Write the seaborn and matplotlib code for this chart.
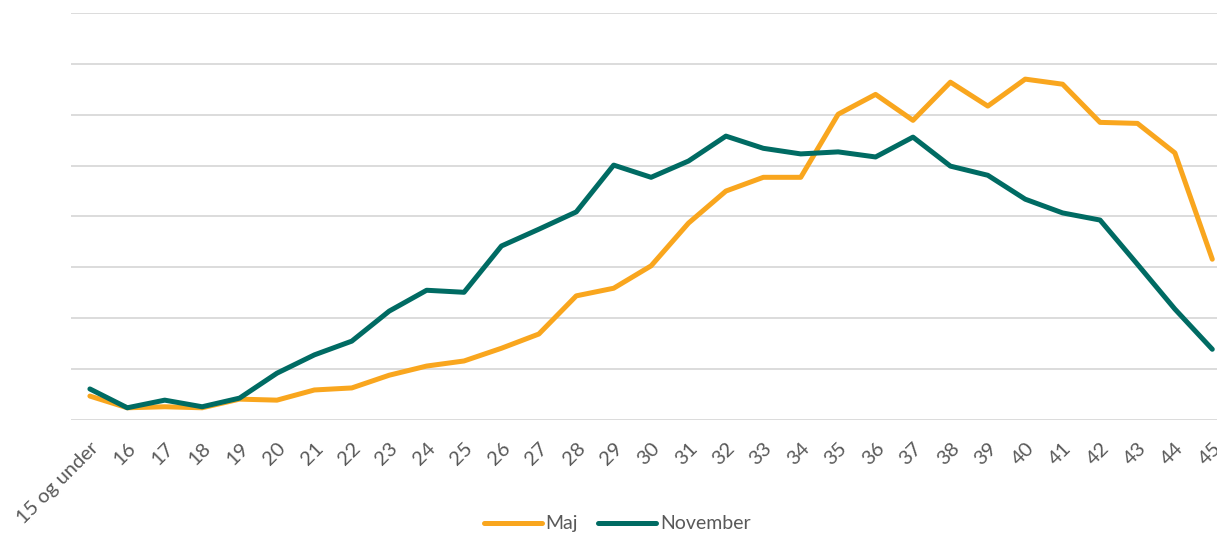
import numpy as np
import pandas as pd
import matplotlib
matplotlib.use("Agg")
import matplotlib.pyplot as plt
import seaborn as sns

# alder (kategorier) og andele for de to maaneder
ages = ["15 og under"] + [str(a) for a in range(16, 46)]
maj = [0.47, 0.24, 0.26, 0.24, 0.41, 0.39, 0.59, 0.63, 0.88, 1.06,
       1.16, 1.41, 1.69, 2.44, 2.59, 3.03, 3.87, 4.50, 4.77, 4.77,
       6.01, 6.40, 5.89, 6.64, 6.17, 6.70, 6.60, 5.85, 5.83, 5.25, 3.16]
november = [0.61, 0.24, 0.39, 0.26, 0.43, 0.92, 1.28, 1.55, 2.14, 2.55,
            2.51, 3.42, 3.75, 4.09, 5.01, 4.77, 5.09, 5.58, 5.34, 5.23,
            5.27, 5.17, 5.56, 4.99, 4.81, 4.34, 4.07, 3.93, 3.06, 2.18, 1.39]

df = pd.DataFrame({
    "Alder": ages * 2,
    "Andel": maj + november,
    "Maaned": ["Maj"] * len(ages) + ["November"] * len(ages),
})
df["pos"] = list(range(len(ages))) * 2

sns.set_theme(style="white")
plt.rcParams["font.family"] = ["Lato", "DejaVu Sans"]

fig = plt.figure(figsize=(12.17, 5.39), dpi=100)
ax = fig.add_axes([0.0585, 0.2208, 0.953, 0.7551])

sns.lineplot(data=df, x="pos", y="Andel", hue="Maaned",
             palette={"Maj": "#F9A61E", "November": "#006B63"},
             linewidth=3.6, ax=ax, solid_capstyle="round",
             solid_joinstyle="round")

ax.set_xlim(-0.5, len(ages) - 0.5)
ax.set_ylim(0, 8)
ax.set_yticks(np.arange(0, 9, 1))
ax.set_yticklabels([])
ax.tick_params(axis="y", length=0)
ax.grid(axis="y", color="#D9D9D9", linewidth=1.3)
ax.set_axisbelow(True)
for s in ax.spines.values():
    s.set_visible(False)

ax.set_xticks(range(len(ages)))
ax.set_xticklabels(ages, rotation=45, ha="right", rotation_mode="anchor",
                   fontsize=14.5, color="#595959")
ax.tick_params(axis="x", length=0, pad=14)
ax.set_xlabel("")
ax.set_ylabel("")

ax.legend_.remove()
handles, labels = ax.get_legend_handles_labels()
leg = fig.legend(handles, labels, loc="center", bbox_to_anchor=(0.507, 0.028),
                 ncol=2, frameon=False, fontsize=14, handlelength=3.0,
                 columnspacing=1.0, handletextpad=0.2, labelcolor="#595959")
for h in leg.get_lines():
    h.set_linewidth(3.6)
    h.set_solid_capstyle("round")

fig.savefig("out.png", dpi=100)
